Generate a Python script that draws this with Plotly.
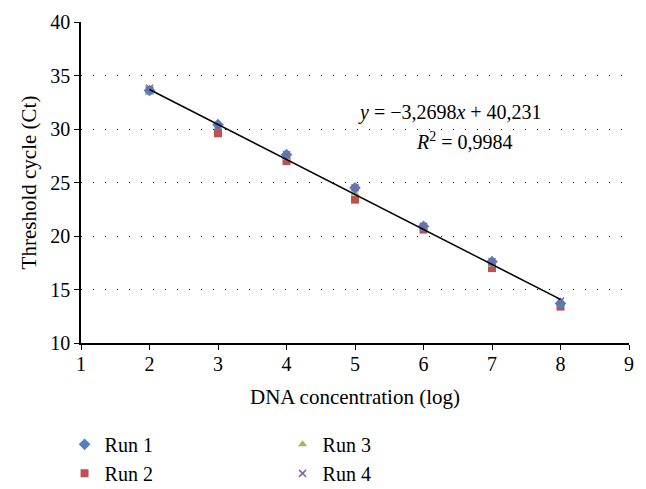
import plotly.graph_objects as go
import numpy as np

x_vals = [2, 3, 4, 5, 6, 7, 8]
run1 = [33.6, 30.4, 27.6, 24.5, 20.9, 17.6, 13.7]
run2 = [33.6, 29.6, 27.0, 23.4, 20.6, 17.0, 13.4]
run3 = [33.4, 30.2, 27.3, 24.0, 20.7, 17.3, 13.7]
run4 = [33.8, 30.2, 27.6, 24.5, 20.9, 17.6, 13.9]
slope = -3.2698
intercept = 40.231
x_ticks = [1, 2, 3, 4, 5, 6, 7, 8, 9]
y_ticks = [10, 15, 20, 25, 30, 35, 40]

FONT = "Liberation Serif"

fig = go.Figure()

series = {
    "Run 1": (run1, "diamond", "#4F81BD", 9),
    "Run 2": (run2, "square", "#C0504D", 8),
    "Run 3": (run3, "triangle-up", "#9BBB59", 8),
    "Run 4": (run4, "x-thin", "#8064A2", 7),
}
draw_order = ["Run 2", "Run 3", "Run 1", "Run 4"]
legend_rank = {"Run 1": 1, "Run 3": 2, "Run 2": 3, "Run 4": 4}
for name in draw_order:
    vals, sym, col, size = series[name]
    marker = dict(symbol=sym, color=col, size=size)
    if sym == "x-thin":
        marker["line"] = dict(color=col, width=1.5)
    fig.add_trace(go.Scatter(x=x_vals, y=vals, mode="markers", name=name,
                             marker=marker, legendrank=legend_rank[name]))

xl = np.array([min(x_vals), max(x_vals)])
fig.add_trace(go.Scatter(x=xl, y=slope * xl + intercept, mode="lines",
                         line=dict(color="black", width=1.5), showlegend=False))

fig.add_annotation(x=6.39, y=31.5, xref="x", yref="y", showarrow=False,
                   text="<i>y</i> = −3,2698<i>x</i> + 40,231",
                   font=dict(family=FONT, size=20, color="black"))
fig.add_annotation(x=6.6, y=28.9, xref="x", yref="y", showarrow=False,
                   text="<i>R</i><sup>2</sup> = 0,9984",
                   font=dict(family=FONT, size=20, color="black"))

fig.update_layout(
    width=638, height=481,
    margin=dict(l=73, r=17, t=14, b=146, autoexpand=False),
    paper_bgcolor="white", plot_bgcolor="white",
    font=dict(family=FONT, size=20, color="black"),
    legend=dict(orientation="h", x=-0.03, xanchor="left", y=-0.255, yanchor="top",
                entrywidth=173, font=dict(family=FONT, size=20, color="black"),
                tracegroupgap=0, itemwidth=30, bgcolor="rgba(0,0,0,0)"),
    xaxis=dict(range=[1, 9], tickvals=x_ticks, showgrid=False,
               showline=True, linecolor="black", linewidth=1.5,
               ticks="outside", ticklen=5, tickcolor="black",
               ticklabelstandoff=-3,
               zeroline=False,
               title=dict(text="DNA concentration (log)", font=dict(size=21), standoff=16)),
    yaxis=dict(range=[10, 40], tickvals=y_ticks, showgrid=True,
               gridcolor="black", griddash="1px,11px", gridwidth=1,
               showline=True, linecolor="black", linewidth=1.5,
               ticks="outside", ticklen=5, tickcolor="black",
               zeroline=False,
               title=dict(text="Threshold cycle (Ct)", font=dict(size=21), standoff=8)),
)

fig.write_html("out.html")
